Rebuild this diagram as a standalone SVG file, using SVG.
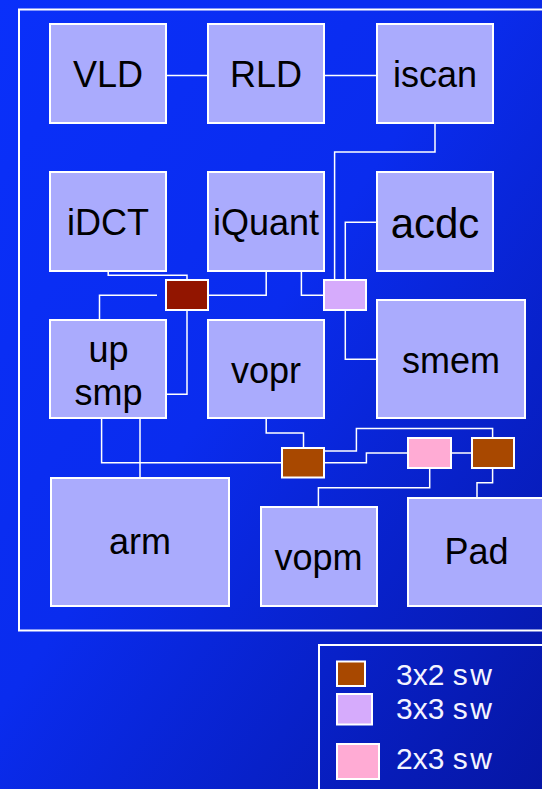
<svg xmlns="http://www.w3.org/2000/svg" width="542" height="789" viewBox="0 0 542 789">
<defs>
<linearGradient id="bg" x1="0" y1="0" x2="1" y2="1">
<stop offset="0" stop-color="#0a30fa"/>
<stop offset="0.45" stop-color="#0a2cee"/>
<stop offset="1" stop-color="#0616a4"/>
</linearGradient>
<style>
.node{fill:#aaabfd;stroke:#ffffff;stroke-width:2}
.lbl{font-family:"Liberation Sans",Arial,sans-serif;font-size:36px;fill:#000000;text-anchor:middle}
.conn{fill:none;stroke:#ffffff;stroke-width:1.5}
.sw{stroke:#ffffff;stroke-width:2}
.red{fill:#921500}
.brown{fill:#a84800}
.purple{fill:#d6abfc}
.pink{fill:#ffabd4}
.leg{font-family:"Liberation Sans",Arial,sans-serif;font-size:30px;fill:#f4f4ff}
.frame{fill:none;stroke:#ffffff;stroke-width:2}
</style>
</defs>
<rect x="0" y="0" width="542" height="789" fill="url(#bg)"/>
<rect class="frame" x="19" y="9.5" width="560" height="621"/>

<g id="connectors">
<path class="conn" d="M166,75.5 H208"/>
<path class="conn" d="M324,75.5 H377"/>
<path class="conn" d="M435,123 V152 H334.6 V280"/>
<path class="conn" d="M377,222.3 H345.3 V280"/>
<path class="conn" d="M345.3,310 V359.3 H377"/>
<path class="conn" d="M301.4,271 V295.3 H324"/>
<path class="conn" d="M266.2,271 V295.3 H208"/>
<path class="conn" d="M108.2,271 V275.3 H187 V280"/>
<path class="conn" d="M157,295.3 H99.5 V320"/>
<path class="conn" d="M187,310 V394.3 H166"/>
<path class="conn" d="M266.2,418 V433 H303.5 V448"/>
<path class="conn" d="M101.6,418 V462.7 H282"/>
<path class="conn" d="M140,418 V478"/>
<path class="conn" d="M324,451 H356.4 V428.5 H492.6 V438"/>
<path class="conn" d="M324,462.7 H366.4 V453 H408"/>
<path class="conn" d="M451,453 H472"/>
<path class="conn" d="M429.7,468 V487.7 H318.4 V507"/>
<path class="conn" d="M492.6,468 V482.7 H477 V498"/>
</g>

<g id="VLD"><rect class="node" x="50" y="24" width="116" height="99"/><text class="lbl" x="108" y="87">VLD</text></g>
<g id="RLD"><rect class="node" x="208" y="24" width="116" height="99"/><text class="lbl" x="266" y="87">RLD</text></g>
<g id="iscan"><rect class="node" x="377" y="24" width="116" height="99"/><text class="lbl" x="435" y="87">iscan</text></g>
<g id="iDCT"><rect class="node" x="50" y="172" width="116" height="99"/><text class="lbl" x="108" y="235">iDCT</text></g>
<g id="iQuant"><rect class="node" x="208" y="172" width="116" height="99"/><text class="lbl" x="266" y="235">iQuant</text></g>
<g id="acdc"><rect class="node" x="377" y="172" width="116" height="99"/><text class="lbl" x="435" y="238" style="font-size:42px">acdc</text></g>
<g id="upsmp"><rect class="node" x="50" y="320" width="116" height="98"/><text class="lbl" x="108.5" y="361.5">up</text><text class="lbl" x="108.5" y="405">smp</text></g>
<g id="vopr"><rect class="node" x="208" y="320" width="116" height="98"/><text class="lbl" x="266" y="382.5">vopr</text></g>
<g id="smem"><rect class="node" x="377" y="300" width="148" height="118"/><text class="lbl" x="451" y="372.5">smem</text></g>
<g id="arm"><rect class="node" x="51" y="478" width="178" height="128"/><text class="lbl" x="140" y="554">arm</text></g>
<g id="vopm"><rect class="node" x="261" y="507" width="116" height="99"/><text class="lbl" x="318.5" y="570">vopm</text></g>
<g id="Pad"><rect class="node" x="408" y="498" width="137" height="108"/><text class="lbl" x="476.5" y="564">Pad</text></g>

<g id="sw_red"><rect class="sw red" x="166" y="280" width="42" height="30"/></g>
<g id="sw_purple"><rect class="sw purple" x="324" y="280" width="42" height="30"/></g>
<g id="sw_brown1"><rect class="sw brown" x="282" y="448" width="42" height="29.5"/></g>
<g id="sw_pink"><rect class="sw pink" x="408" y="438" width="43" height="30"/></g>
<g id="sw_brown2"><rect class="sw brown" x="472" y="438" width="42" height="30"/></g>

<g id="legend">
<rect class="frame" x="319" y="645" width="240" height="160"/>
<rect class="sw brown" x="337" y="661.5" width="28" height="24.5"/>
<rect class="sw purple" x="337" y="694" width="35" height="30.5"/>
<rect class="sw pink" x="337" y="744" width="42" height="35"/>
<text class="leg" x="396" y="685">3x2 <tspan letter-spacing="2.6">s</tspan>w</text>
<text class="leg" x="396" y="719">3x3 <tspan letter-spacing="2.6">s</tspan>w</text>
<text class="leg" x="396" y="769">2x3 <tspan letter-spacing="2.6">s</tspan>w</text>
</g>
</svg>
